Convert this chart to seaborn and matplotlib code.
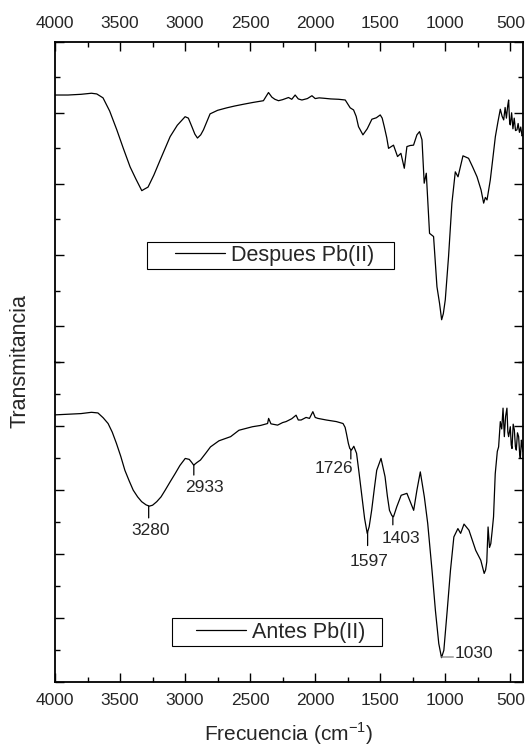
import numpy as np
import matplotlib
matplotlib.use('Agg')
import matplotlib.pyplot as plt
from matplotlib.ticker import MultipleLocator, NullFormatter
from matplotlib.legend_handler import HandlerLine2D
from matplotlib.lines import Line2D
import seaborn as sns

# spectrum after Pb(II) adsorption (upper layer), arbitrary transmittance units
top_wn = [
    4000, 3900, 3800, 3720, 3679, 3631, 3580, 3525, 3475, 3423,
    3380, 3333, 3310, 3285, 3240, 3192, 3150, 3115, 3060, 3000,
    2975, 2948, 2925, 2905, 2880, 2859, 2808, 2750, 2679, 2620,
    2552, 2480, 2398, 2359, 2333, 2310, 2282, 2250, 2205, 2180,
    2154, 2130, 2102, 2060, 2025, 2000, 1970, 1936, 1880, 1820,
    1769, 1750, 1731, 1705, 1685, 1667, 1633, 1600, 1564, 1530,
    1500, 1485, 1469, 1450, 1436, 1398, 1367, 1341, 1315, 1295,
    1270, 1244, 1218, 1198, 1179, 1162, 1146, 1121, 1090, 1064,
    1044, 1028, 1015, 1000, 975, 949, 923, 902, 864, 821,
    790, 756, 725, 705, 692, 679, 654, 635, 615, 595,
    577, 563, 551, 540, 530, 520, 513, 505, 500, 490,
    480, 470, 460, 449, 440, 430, 420, 410, 405]
top_t = [
    65.0, 65.0, 65.2, 65.5, 65.3, 64.2, 60.5, 55.2, 50.0, 44.8,
    41.5, 38.1, 38.6, 39.1, 42.5, 46.7, 50.3, 53.3, 56.5, 58.9,
    58.5, 56.1, 54.0, 52.9, 53.8, 55.2, 59.7, 60.7, 61.4, 61.9,
    62.4, 62.9, 63.4, 65.7, 64.4, 63.8, 63.4, 63.7, 64.3, 63.8,
    65.0, 63.9, 63.6, 64.0, 64.8, 64.0, 64.2, 64.1, 63.9, 63.8,
    63.6, 62.5, 61.4, 60.8, 59.0, 56.1, 53.8, 55.5, 58.2, 58.6,
    59.4, 58.5, 56.1, 53.0, 50.0, 50.9, 47.7, 48.6, 44.4, 50.5,
    50.8, 50.9, 53.8, 54.7, 52.4, 40.2, 43.0, 26.1, 25.2, 11.1,
    6.4, 1.8, 3.5, 7.4, 19.5, 34.6, 43.4, 42.0, 47.9, 47.2,
    44.8, 42.0, 38.3, 34.6, 36.2, 35.5, 41.1, 47.0, 53.3, 57.5,
    61.0, 59.0, 58.0, 61.5, 58.5, 62.0, 63.6, 57.0, 56.6, 60.0,
    55.5, 58.5, 55.0, 55.2, 57.0, 54.5, 56.0, 53.5, 53.8]

# spectrum before Pb(II) adsorption (lower layer)
bot_wn = [
    4000, 3900, 3800, 3720, 3670, 3630, 3592, 3560, 3528, 3495,
    3463, 3430, 3399, 3365, 3334, 3300, 3275, 3250, 3218, 3185,
    3153, 3115, 3076, 3040, 2999, 2968, 2950, 2934, 2910, 2882,
    2840, 2805, 2740, 2650, 2586, 2482, 2420, 2366, 2358, 2340,
    2289, 2250, 2224, 2180, 2147, 2130, 2108, 2070, 2044, 2018,
    2000, 1979, 1915, 1837, 1786, 1770, 1760, 1745, 1734, 1721,
    1703, 1682, 1665, 1644, 1620, 1600, 1585, 1566, 1545, 1527,
    1494, 1463, 1445, 1429, 1410, 1398, 1373, 1339, 1295, 1264,
    1243, 1218, 1192, 1161, 1135, 1102, 1076, 1050, 1029, 1011,
    985, 960, 934, 903, 882, 856, 818, 766, 727, 701,
    690, 681, 671, 660, 650, 640, 629, 616, 600, 590,
    577, 566, 556, 546, 536, 526, 519, 513, 500, 493,
    487, 478, 469, 461, 454, 445, 436, 428, 423, 415,
    410, 405]
bot_t = [
    83.4, 83.6, 83.8, 84.2, 84.0, 82.5, 80.7, 78.0, 74.5, 70.5,
    66.1, 62.8, 59.9, 57.8, 56.3, 55.3, 54.9, 55.2, 56.3, 57.8,
    59.9, 62.5, 65.1, 67.6, 69.8, 69.5, 68.6, 67.7, 68.5, 69.3,
    71.5, 73.4, 75.3, 76.6, 78.6, 79.7, 80.1, 80.7, 82.3, 80.6,
    80.2, 81.0, 81.3, 82.2, 83.3, 81.8, 81.8, 82.6, 82.3, 84.4,
    82.6, 82.3, 81.8, 81.3, 80.7, 79.5, 77.6, 74.5, 72.9, 72.4,
    73.6, 71.4, 66.0, 58.9, 51.0, 46.4, 48.5, 53.6, 60.5, 66.1,
    69.8, 64.1, 58.0, 53.6, 51.9, 51.6, 54.7, 58.3, 58.9, 55.7,
    53.6, 59.9, 65.6, 57.8, 49.5, 34.9, 22.4, 12.0, 7.6, 9.9,
    22.4, 34.9, 45.3, 47.9, 46.4, 49.3, 47.4, 41.1, 38.0, 33.9,
    35.0, 37.5, 48.4, 42.0, 43.2, 47.0, 51.6, 65.0, 72.0, 73.4,
    81.3, 79.0, 85.5, 76.6, 83.0, 85.5, 78.0, 76.6, 79.7, 74.0,
    72.9, 80.5, 78.7, 73.5, 72.4, 77.8, 76.6, 71.0, 69.8, 75.5,
    74.5, 72.0]

peaks = [3280, 2933, 1726, 1597, 1403, 1030]
peak_labels = ['3280', '2933', '1726', '1597', '1403', '1030']

sns.set_style('ticks')
plt.rcParams['font.family'] = ['Liberation Sans', 'DejaVu Sans']
plt.rcParams['mathtext.fontset'] = 'custom'
plt.rcParams['mathtext.rm'] = 'Liberation Sans'

fig = plt.figure(figsize=(5.27, 7.47), dpi=100)
ax_top = fig.add_axes([0.1044, 0.5158, 0.8874, 0.4284])
ax_bot = fig.add_axes([0.1044, 0.0870, 0.8874, 0.4288])

sns.lineplot(x=top_wn, y=top_t, ax=ax_top, color='black', lw=0.9,
             estimator=None, sort=False, label='Despues Pb(II)', legend=False)
sns.lineplot(x=bot_wn, y=bot_t, ax=ax_bot, color='black', lw=0.9,
             estimator=None, sort=False, label='Antes Pb(II)', legend=False)

for ax in (ax_top, ax_bot):
    ax.set_xlim(4000, 405)
    ax.xaxis.set_major_locator(MultipleLocator(500))
    ax.xaxis.set_minor_locator(MultipleLocator(250))
    ax.yaxis.set_major_locator(MultipleLocator(20))
    ax.yaxis.set_minor_locator(MultipleLocator(10))
    ax.yaxis.set_major_formatter(NullFormatter())
    ax.tick_params(which='both', direction='in', width=1.0, color='black',
                   left=True, right=True, labelleft=False, labelsize=12.5, pad=8)
    ax.tick_params(which='major', length=6.5)
    ax.tick_params(which='minor', length=3.5)
    for s in ax.spines.values():
        s.set_linewidth(1.3)
        s.set_color('black')
    ax.set_xlabel('')
    ax.set_ylabel('')
    ax.patch.set_alpha(0)

ax_top.set_ylim(-10, 80)
ax_bot.set_ylim(0, 100)

ax_top.spines['bottom'].set_visible(False)
ax_top.tick_params(axis='x', which='both', top=True, bottom=False,
                   labeltop=True, labelbottom=False)
ax_bot.spines['top'].set_visible(False)
ax_bot.tick_params(axis='x', which='both', top=False, bottom=True,
                   labeltop=False, labelbottom=True)

ax_bot.set_xlabel('Frecuencia (cm$^{-1}$)', fontsize=15, labelpad=9)
fig.text(20.3 / 527, 1 - 361 / 747, 'Transmitancia', rotation=90,
         ha='center', va='center', fontsize=15.5)

# legends, framed boxes like the original
leg_top = ax_top.legend(loc='center', bbox_to_anchor=(0.197, 0.286, 0.527, 0.093),
                        mode='expand', fontsize=15.5, frameon=True, fancybox=False,
                        framealpha=1, edgecolor='black', borderpad=0.15,
                        handlelength=3.48, handletextpad=0.28, borderaxespad=0,
                        handler_map={Line2D: HandlerLine2D(xpad=1.15)})
leg_top.get_frame().set_linewidth(0.8)
leg_bot = ax_bot.legend(loc='center', bbox_to_anchor=(0.251, 0.110, 0.448, 0.092),
                        mode='expand', fontsize=15.5, frameon=True, fancybox=False,
                        framealpha=1, edgecolor='black', borderpad=0.15,
                        handlelength=3.28, handletextpad=0.28, borderaxespad=0,
                        handler_map={Line2D: HandlerLine2D(xpad=0.95)})
leg_bot.get_frame().set_linewidth(0.8)

# peak marks on the lower spectrum
wn_inc = np.array(bot_wn[::-1])
t_inc = np.array(bot_t[::-1])
line_off = [(0, -12), (0, -10), (0, -9.5), (0, -13.5), (0, -8.5), (12, 0)]
text_off = [(2, -25), (11, -22), (-17, -19), (1, -29), (8, -22), (13, 3)]
for wn, lab, lo, to in zip(peaks, peak_labels, line_off, text_off):
    y = np.interp(wn, wn_inc, t_inc)
    col = '#808080' if lo[1] == 0 else 'black'
    ax_bot.annotate('', xy=(wn, y), xytext=lo, textcoords='offset pixels',
                    arrowprops=dict(arrowstyle='-', color=col, lw=0.9,
                                    shrinkA=0, shrinkB=0))
    ax_bot.annotate(lab, xy=(wn, y), xytext=to, textcoords='offset pixels',
                    ha='left' if lo[1] == 0 else 'center', va='center',
                    fontsize=12.5)

fig.savefig('out.png', dpi=100)
